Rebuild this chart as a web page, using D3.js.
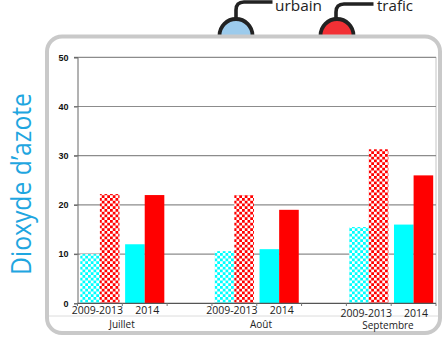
<!DOCTYPE html>
<html lang="fr">
<head>
<meta charset="utf-8">
<script src="https://cdnjs.cloudflare.com/ajax/libs/d3/7.8.5/d3.min.js"></script>
<style>
html,body{margin:0;padding:0;background:#fff}
svg{display:block}
</style>
</head>
<body>
<svg id="chart" width="445" height="337"></svg>
<script>
const months = ["Juillet", "Août", "Septembre"];
const periods = ["2009-2013", "2014"];
const urbain = [[10, 12], [10.6, 11], [15.5, 16]];
const trafic = [[22.2, 22], [22, 19], [31.3, 26]];
const yTicks = [0, 10, 20, 30, 40, 50];
const legendItems = ["urbain", "trafic"];
const legendColors = ["#9ccbec", "#f23035"];
const barColors = { urbain: "#00ffff", trafic: "#ff0000" };

const svg = d3.select("#chart");
const defs = svg.append("defs");
const labelFont = "'Open Sans',sans-serif";

// Checker fills for the 2009-2013 reference period
Object.entries(barColors).forEach(([name, color]) => {
  const p = defs.append("pattern").attr("id", "check-" + name)
    .attr("patternUnits", "userSpaceOnUse").attr("width", 5.5).attr("height", 5.5);
  p.append("rect").attr("width", 5.5).attr("height", 5.5).attr("fill", "#fff");
  p.append("rect").attr("width", 2.75).attr("height", 2.75).attr("fill", color);
  p.append("rect").attr("x", 2.75).attr("y", 2.75).attr("width", 2.75).attr("height", 2.75).attr("fill", color);
});

// Eight equal slots: two periods per month followed by a gap slot
const slots = months.flatMap((m, i) => {
  const s = periods.map((p, j) => ({ key: `${i}-${j}`, month: i, period: j }));
  return i < months.length - 1 ? [...s, { key: `gap-${i}` }] : s;
});
const x = d3.scaleBand().domain(slots.map(d => d.key)).range([77.5, 436]);
const y = d3.scaleLinear().domain([0, 50]).range([303.3, 57.3]);
const barW = 19.6;

// Legend domes and their leader lines, drawn first so the frame cuts them off
const legendX = d3.scalePoint().domain(legendItems).range([236, 337]);
const leaderY = [2, 4];
const legend = svg.append("g").selectAll("g").data(legendItems).join("g")
  .attr("transform", d => `translate(${legendX(d)},0)`);
legend.append("circle").attr("cy", 35.5).attr("r", 16.5)
  .attr("fill", (d, i) => legendColors[i]).attr("stroke", "#222").attr("stroke-width", 3.8);
legend.append("path").attr("fill", "none").attr("stroke", "#222").attr("stroke-width", 3.6)
  .attr("d", (d, i) => `M${-i},18V${leaderY[i] + 8}Q${-i},${leaderY[i]} ${8 - i},${leaderY[i]}H36.5`);
legend.append("text").attr("x", (d, i) => 39 + i).attr("y", 11).attr("font-size", 15).attr("fill", "#222")
  .attr("textLength", (d, i) => [47, 36][i]).attr("lengthAdjust", "spacingAndGlyphs")
  .style("font-family", labelFont).text(d => d);

// White panel with its rounded grey border
svg.append("rect").attr("x", 47).attr("y", 36.5).attr("width", 393).attr("height", 296.5)
  .attr("rx", 15).attr("fill", "#fff").attr("stroke", "#c9c9c9").attr("stroke-width", 4);
svg.append("line").attr("x1", 49).attr("x2", 438).attr("y1", 316).attr("y2", 316)
  .attr("stroke", "#dcdcdc");
svg.append("line").attr("x1", 436).attr("x2", 436).attr("y1", 57).attr("y2", 303)
  .attr("stroke", "#c4c4c4");

// Gridlines and value axis
svg.append("g").selectAll("line").data(yTicks.filter(d => d > 0)).join("line")
  .attr("x1", 74).attr("x2", 436).attr("y1", d => y(d)).attr("y2", d => y(d))
  .attr("stroke", "#8c8c8c").attr("stroke-width", 1.2);

const yAxis = svg.append("g").attr("transform", "translate(77.5,0)")
  .call(d3.axisLeft(y).tickValues(yTicks).tickSize(3.5).tickPadding(5.5));
yAxis.select(".domain").attr("stroke", "#666");
yAxis.selectAll(".tick line").attr("stroke", "#666");
yAxis.selectAll("text").attr("font-size", 9).attr("font-weight", "bold").attr("fill", "#111")
  .style("font-family", "'Liberation Sans',sans-serif");

// Bars: urbain and trafic side by side in each slot
const barSlots = slots.filter(d => d.month !== undefined);
const series = [
  { name: "urbain", values: urbain, offset: -barW },
  { name: "trafic", values: trafic, offset: 0 }
];
series.forEach(s => {
  svg.append("g").selectAll("rect").data(barSlots).join("rect")
    .attr("x", d => x(d.key) + x.bandwidth() / 2 + s.offset)
    .attr("width", barW)
    .attr("y", d => y(s.values[d.month][d.period]))
    .attr("height", d => y(0) - y(s.values[d.month][d.period]))
    .attr("fill", d => d.period === 0 ? `url(#check-${s.name})` : barColors[s.name]);
});

// Category axis with period ticks
const xAxisLine = svg.append("g");
xAxisLine.append("line").attr("x1", 77.5).attr("x2", 436).attr("y1", 303.3).attr("y2", 303.3)
  .attr("stroke", "#555").attr("stroke-width", 1.2);
xAxisLine.selectAll("line.t").data(d3.range(0, slots.length + 1)).join("line").attr("class", "t")
  .attr("x1", d => 77.5 + d * x.step()).attr("x2", d => 77.5 + d * x.step())
  .attr("y1", 303.3).attr("y2", 306).attr("stroke", "#777");

// Period labels and month labels; the last month sits slightly lower
svg.append("g").selectAll("text").data(barSlots).join("text")
  .attr("x", d => x(d.key) + x.bandwidth() / 2 + (d.period === 0 ? -2.5 : 2.5))
  .attr("y", d => d.month === 2 ? 316.7 : 314.4)
  .attr("text-anchor", "middle").attr("font-size", 10.5).attr("fill", "#222")
  .style("font-family", labelFont)
  .text(d => periods[d.period]);
const monthX = [122, 261, 388];
svg.append("g").selectAll("text").data(months).join("text")
  .attr("x", (d, i) => monthX[i])
  .attr("y", (d, i) => i === 2 ? 329 : 327.7)
  .attr("text-anchor", "middle").attr("font-size", 10).attr("fill", "#222")
  .style("font-family", labelFont)
  .text(d => d);

// Vertical quantity title
svg.append("text").attr("transform", "translate(30.5,184) rotate(-90)")
  .attr("text-anchor", "middle").attr("font-size", 28).attr("fill", "#1fa6e0")
  .attr("textLength", 182).attr("lengthAdjust", "spacingAndGlyphs")
  .style("font-family", labelFont)
  .text("Dioxyde d’azote");
</script>
</body>
</html>
